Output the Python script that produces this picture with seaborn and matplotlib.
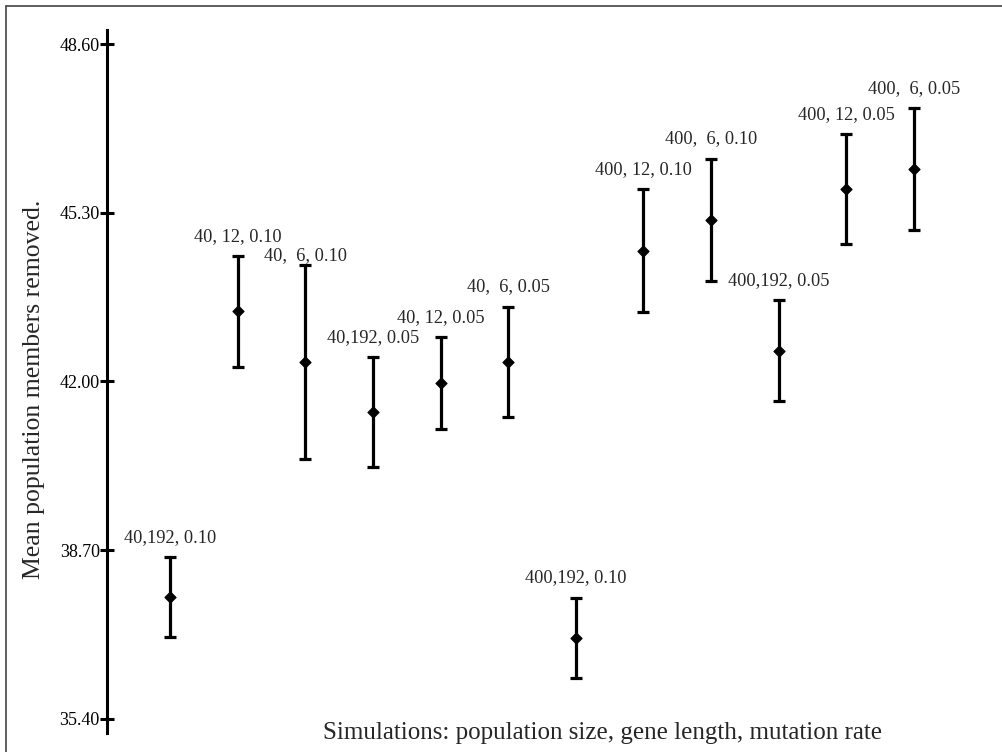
"""
Mean population members removed per simulation setting, with error bars.
"""

import matplotlib

matplotlib.use("Agg")
import matplotlib.pyplot as plt
import numpy as np
import pandas as pd
import seaborn as sns
from matplotlib.lines import Line2D

# ---------------------------------------------------
# Data
# ---------------------------------------------------
SIM_LABELS = [
    "40,192, 0.10",
    "40, 12, 0.10",
    "40,  6, 0.10",
    "40,192, 0.05",
    "40, 12, 0.05",
    "40,  6, 0.05",
    "400,192, 0.10",
    "400, 12, 0.10",
    "400,  6, 0.10",
    "400,192, 0.05",
    "400, 12, 0.05",
    "400,  6, 0.05",
]
MEANS = [37.79, 43.37, 42.38, 41.40, 41.97, 42.38, 36.99, 44.56, 45.16, 42.60, 45.76, 46.16]
ERRORS = [0.78, 1.08, 1.89, 1.08, 0.90, 1.08, 0.78, 1.20, 1.20, 0.99, 1.08, 1.19]
Y_TICKS = [35.40, 38.70, 42.00, 45.30, 48.60]

X_LABEL = "Simulations: population size, gene length, mutation rate"
Y_LABEL = "Mean population members removed."

SERIF = ["Liberation Serif", "DejaVu Serif"]

df = pd.DataFrame({"label": SIM_LABELS, "mean": MEANS, "err": ERRORS})
df["pos"] = np.arange(len(df))

# ---------------------------------------------------
# Figure
# ---------------------------------------------------
sns.set_style("ticks")
plt.rcParams["font.family"] = SERIF

fig = plt.figure(figsize=(10.03, 7.52), dpi=100)
ax = fig.add_axes([0.1067, 0.0253, 0.8933, 0.9348])

ax.errorbar(
    df["pos"],
    df["mean"],
    yerr=df["err"],
    fmt="none",
    ecolor="black",
    elinewidth=2.3,
    capsize=4.3,
    capthick=2.3,
    zorder=2,
)
sns.scatterplot(
    data=df,
    x="pos",
    y="mean",
    marker="D",
    s=32,
    color="black",
    edgecolor="black",
    linewidth=0.8,
    zorder=3,
    legend=False,
    ax=ax,
)

# labels above the caps; one is squeezed down to dodge its neighbour
nudge = {"40,  6, 0.10": 3.5}
for _, row in df.iterrows():
    ax.annotate(
        row["label"],
        xy=(row["pos"], row["mean"] + row["err"]),
        xytext=(0, nudge.get(row["label"], 11)),
        textcoords="offset points",
        ha="center",
        va="baseline",
        fontsize=13.2,
        family=SERIF,
    )

ax.set_xlim(-0.931, 12.315)
ax.set_ylim(35.126, 48.874)
ax.set_yticks(Y_TICKS)
ax.set_yticklabels([f"{v:.2f}" for v in Y_TICKS], fontsize=13, family=SERIF)
ax.tick_params(axis="y", direction="inout", length=9.5, width=2.2, pad=0.5, colors="black")
ax.set_xticks([])
ax.set_xlabel("")
ax.set_ylabel("")

sns.despine(ax=ax, top=True, right=True, bottom=True)
ax.spines["left"].set_linewidth(2.2)
ax.spines["left"].set_color("black")

fig.text(0.601, 0.025, X_LABEL, ha="center", va="center", fontsize=18, family=SERIF)
fig.text(0.034, 0.482, Y_LABEL, ha="center", va="center", rotation=90, fontsize=18.5, family=SERIF)

# frame lines on the top and left edge of the picture
fig.add_artist(Line2D([0.006, 1.0], [0.992, 0.992], color="#444444", lw=1.2, transform=fig.transFigure))
fig.add_artist(Line2D([0.006, 0.006], [0.0, 0.992], color="#444444", lw=1.2, transform=fig.transFigure))

fig.savefig("out.png", dpi=100)
plt.close(fig)
